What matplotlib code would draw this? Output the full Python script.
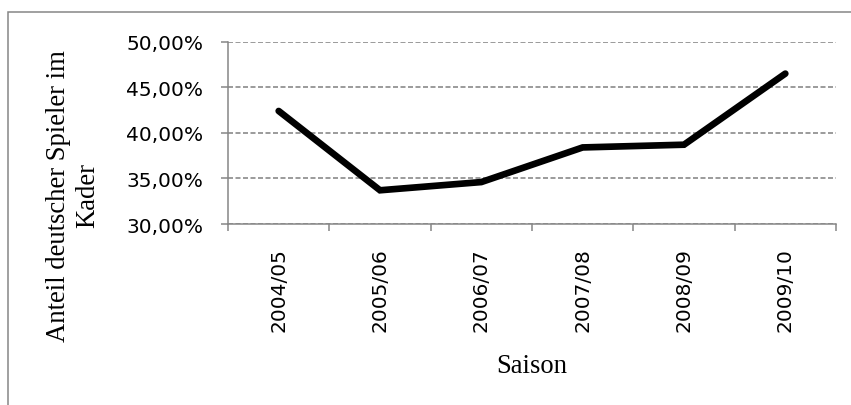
import numpy as np
import matplotlib
matplotlib.use("Agg")
import matplotlib.pyplot as plt
from matplotlib.patches import Rectangle

# data
seasons = ["2004/05", "2005/06", "2006/07", "2007/08", "2008/09", "2009/10"]
share_german = [42.4, 33.7, 34.6, 38.4, 38.7, 46.5]
ytick_values = [30, 35, 40, 45, 50]
ytick_labels = ["30,00%", "35,00%", "40,00%", "45,00%", "50,00%"]

gray = "#868686"

fig = plt.figure(figsize=(8.51, 4.06), dpi=100)
ax = fig.add_axes([228/851, 1 - 225/406, 608/851, 182.3/406])

x = np.arange(len(seasons))
ax.plot(x, share_german, color="black", lw=4.8, solid_capstyle="round",
        solid_joinstyle="miter", zorder=3)

ax.set_xlim(-0.5, len(seasons) - 0.5)
ax.set_ylim(30, 50)

# y axis
ax.set_yticks(ytick_values, ytick_labels)
ax.tick_params(axis="y", length=5, width=1.1, color=gray, pad=13,
               labelsize=14.5, labelcolor="black")
ax.grid(axis="y", color="#8a8a8a", lw=1.2, ls=(0, (3, 1.5)))
ax.set_axisbelow(True)

# x axis: labels at category centres, tick marks at boundaries
ax.set_xticks(x, seasons, rotation=90)
ax.tick_params(axis="x", which="major", length=0, pad=16.5, labelsize=14.5)
ax.set_xticks(np.arange(-0.5, len(seasons)), minor=True)
ax.tick_params(axis="x", which="minor", length=5, width=1.1, color=gray)

for s in ["top", "right"]:
    ax.spines[s].set_visible(False)
for s in ["left", "bottom"]:
    ax.spines[s].set_color(gray)
    ax.spines[s].set_linewidth(1.1)

# axis titles
fig.text(73/851, 1 - 196/406, "Anteil deutscher Spieler im\nKader",
         rotation=90, ha="center", va="center", multialignment="center",
         family="Liberation Serif", fontsize=19.2)
fig.text(532/851, 1 - 367/406, "Saison", ha="center", va="center",
         family="Liberation Serif", fontsize=19.2)

# outer chart border (runs off the right and bottom edges)
fig.patches.append(Rectangle((8/851, -0.2), 1.2, 1.2 - 13/406 + 0.0,
                             transform=fig.transFigure, fill=False,
                             edgecolor=gray, lw=1.1))

fig.savefig("out.png", dpi=100)
